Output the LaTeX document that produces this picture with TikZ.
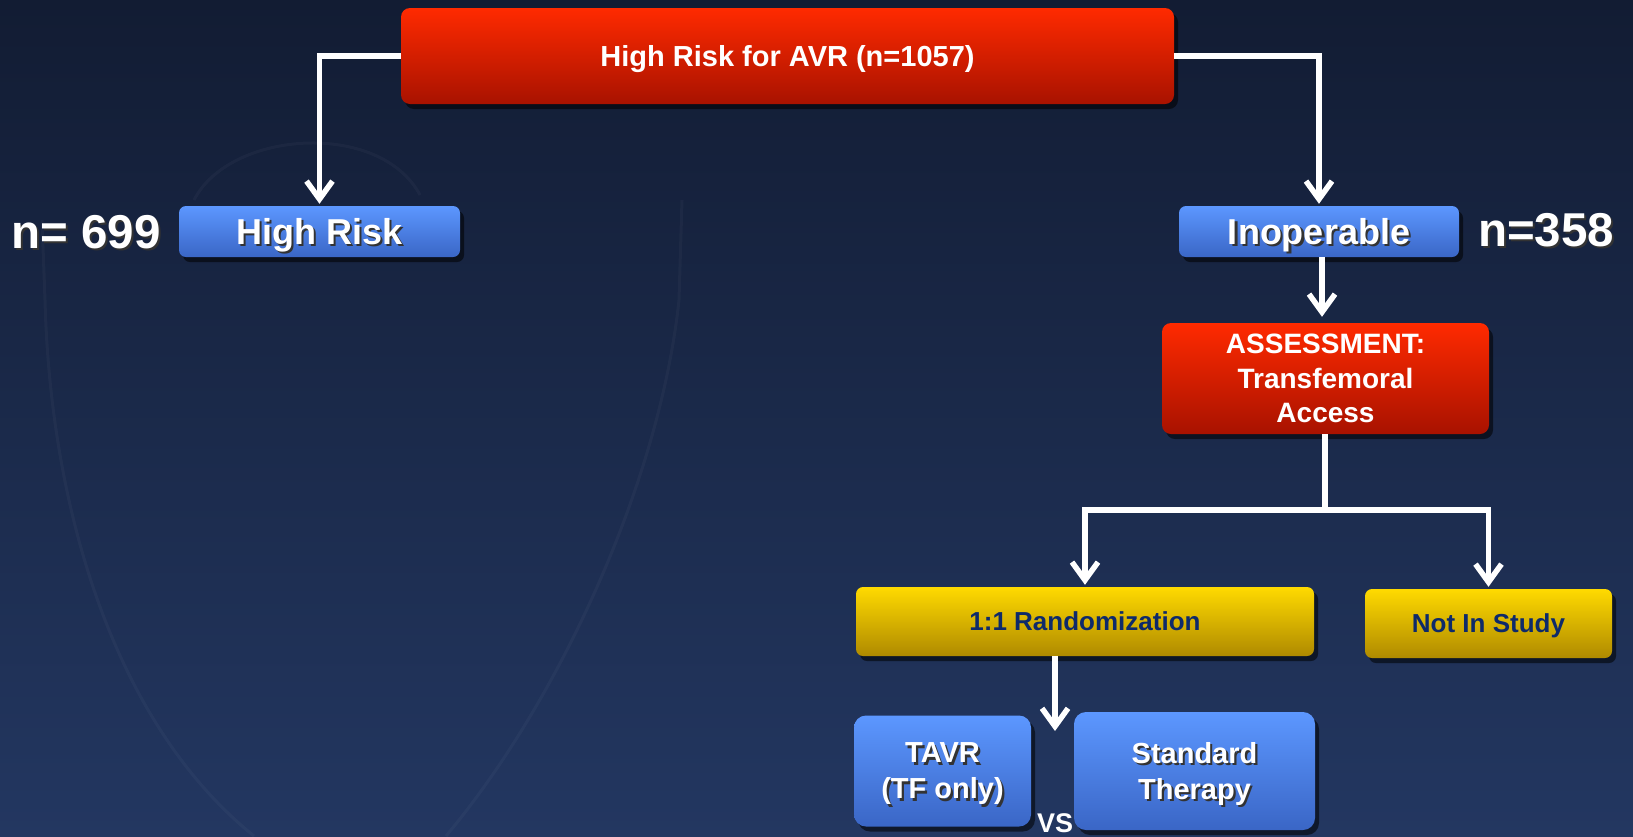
\documentclass[tikz,border=0pt]{standalone}
\usepackage{fontspec}
\setmainfont{Liberation Sans}
\usetikzlibrary{arrows.meta,shadows,calc}
\definecolor{bgtop}{HTML}{121C33}
\definecolor{bgbot}{HTML}{233761}
\definecolor{redtop}{HTML}{FF2A00}
\definecolor{redbot}{HTML}{A81200}
\definecolor{bluetop}{HTML}{5C97FF}
\definecolor{bluebot}{HTML}{3A66C6}
\definecolor{yeltop}{HTML}{FFDA00}
\definecolor{yelbot}{HTML}{AF8A00}
\definecolor{navytxt}{HTML}{0E2A6A}
\newcommand\shtx[1]{\leavevmode\rlap{\kern2.2pt\raisebox{-2.2pt}{\textcolor{black!80}{#1}}}#1}
\tikzset{
  boxbase/.style={rounded corners=9pt, inner sep=0pt, align=center, font=\bfseries,
    drop shadow={shadow xshift=4pt, shadow yshift=-5pt, fill=black, opacity=0.55}},
  oneline/.style={text depth=0pt},
  redbox/.style={boxbase, top color=redtop, bottom color=redbot, text=white},
  bluebox/.style={boxbase, rounded corners=7pt, top color=bluetop, bottom color=bluebot, text=white},
  yelbox/.style={boxbase, rounded corners=7pt, top color=yeltop, bottom color=yelbot, text=navytxt},
  conn/.style={draw=white, line width=5.5pt, -{Straight Barb[length=18pt,width=26pt]}},
  nlabel/.style={text=white, font=\bfseries\fontsize{47.5}{50}\selectfont, inner sep=0pt, oneline},
  faint/.style={draw=white, opacity=0.03, line width=3pt}
}
\begin{document}
\begin{tikzpicture}[x=1pt,y=-1pt]
\useasboundingbox (0,0) rectangle (1633,836);
\fill[top color=bgtop, bottom color=bgbot] (0,0) rectangle (1633,836);
\draw[faint] (42,220) -- (45,300) .. controls (50,500) and (110,720) .. (254,836);
\draw[faint] (682,200) -- (679,300) .. controls (660,480) and (560,700) .. (446,836);
\draw[faint] (194,200) .. controls (230,130) and (380,120) .. (420,195);

\node[redbox, oneline, minimum width=773pt, minimum height=96pt, font=\bfseries\fontsize{29}{35}\selectfont] (top) at (787.5,56) {High Risk for AVR (n=1057)};
\node[bluebox, oneline, minimum width=281pt, minimum height=51pt, font=\bfseries\fontsize{36}{40}\selectfont] (hr) at (319.5,231.5) {\shtx{High Risk}};
\node[bluebox, oneline, minimum width=280pt, minimum height=51pt, font=\bfseries\fontsize{36}{40}\selectfont] (inop) at (1319,231.5) {\shtx{Inoperable}};
\node[nlabel] (n699) at (86,232) {\shtx{n= 699}};
\node[nlabel] (n358) at (1546,230) {\shtx{n=358}};
\node[redbox, minimum width=327pt, minimum height=111pt, font=\bfseries\fontsize{28}{34.5}\selectfont] (assess) at (1325.5,378.5) {ASSESSMENT:\\Transfemoral\\Access};
\node[yelbox, oneline, minimum width=458pt, minimum height=69pt, font=\bfseries\fontsize{26}{30}\selectfont] (rand) at (1085,621.5) {1:1 Randomization};
\node[yelbox, oneline, minimum width=247pt, minimum height=69pt, font=\bfseries\fontsize{26}{30}\selectfont] (nis) at (1488.5,623.5) {Not In Study};
\node[bluebox, rounded corners=12pt, text depth=0pt, minimum width=177pt, minimum height=111pt, font=\bfseries\fontsize{29}{36}\selectfont] (tavr) at (942.5,771) {\shtx{TAVR}\\\shtx{(TF only)}};
\node[bluebox, rounded corners=12pt, text depth=0pt, minimum width=241pt, minimum height=118pt, font=\bfseries\fontsize{29}{36}\selectfont] (std) at (1194.5,771) {\shtx{Standard}\\\shtx{Therapy}};
\node[anchor=base, text=white, inner sep=0pt, font=\bfseries\fontsize{27}{30}\selectfont] (vs) at (1055,832) {VS};

\coordinate (split) at (1325,510);
\coordinate (randend) at (1055,731);
\coordinate (inopx) at (1322,0);
\draw[conn, shorten >=2pt] (top.west) -| (hr.north);
\draw[conn, shorten >=2pt] (top.east) -| (inop.north);
\draw[conn, shorten >=6pt] (inop.south -| inopx) -- (assess.north -| inopx);
\draw[draw=white, line width=5.5pt] (assess.south -| split) -- (split);
\draw[conn, shorten >=2pt] ($(split)+(2.75,0)$) -| (rand.north);
\draw[conn, shorten >=2pt] ($(split)-(2.75,0)$) -| (nis.north);
\draw[conn] (rand.south -| randend) -- (randend);
\end{tikzpicture}
\end{document}
